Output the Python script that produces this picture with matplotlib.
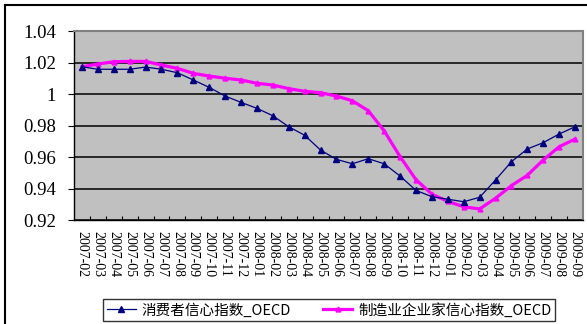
import matplotlib
matplotlib.use("Agg")
import matplotlib.pyplot as plt
from matplotlib.lines import Line2D
from matplotlib import font_manager

months = ["2007-02", "2007-03", "2007-04", "2007-05", "2007-06", "2007-07", "2007-08", "2007-09",
          "2007-10", "2007-11", "2007-12", "2008-01", "2008-02", "2008-03", "2008-04", "2008-05",
          "2008-06", "2008-07", "2008-08", "2008-09", "2008-10", "2008-11", "2008-12", "2009-01",
          "2009-02", "2009-03", "2009-04", "2009-05", "2009-06", "2009-07", "2009-08", "2009-09"]

consumer = [1.0173, 1.0157, 1.0157, 1.0157, 1.0171, 1.0157, 1.0135, 1.0089, 1.0042, 0.9987,
            0.9947, 0.9909, 0.9862, 0.9792, 0.9738, 0.9644, 0.9585, 0.9557, 0.9589, 0.9557,
            0.9479, 0.9388, 0.9348, 0.9332, 0.9316, 0.9344, 0.9454, 0.9570, 0.9651, 0.9691,
            0.9746, 0.9792]

manufacturing = [1.0173, 1.0190, 1.0205, 1.0207, 1.0207, 1.0184, 1.0163, 1.0131, 1.0114, 1.0100,
                 1.0089, 1.0068, 1.0057, 1.0034, 1.0017, 1.0008, 0.9987, 0.9957, 0.9894, 0.9766,
                 0.9602, 0.9456, 0.9364, 0.9318, 0.9284, 0.9270, 0.9338, 0.9418, 0.9484, 0.9581,
                 0.9665, 0.9714]

series_names = ["消费者信心指数_OECD", "制造业企业家信心指数_OECD"]
y_ticks = [0.92, 0.94, 0.96, 0.98, 1.00, 1.02, 1.04]
y_tick_labels = ["0.92", "0.94", "0.96", "0.98", "1", "1.02", "1.04"]

# pick a serif face for the axis numbers
available = {f.name for f in font_manager.fontManager.ttflist}
serif = next((n for n in ["Liberation Serif", "DejaVu Serif"] if n in available), "serif")

W, H = 587, 324
fig = plt.figure(figsize=(W / 100, H / 100), dpi=100)
fig.patch.set_facecolor("white")

# outer chart frame (top and left edges visible)
fig.add_artist(Line2D([4.5 / W, 4.5 / W], [0, 1 - 5 / H], color="black", lw=1.5,
                      transform=fig.transFigure))
fig.add_artist(Line2D([4.5 / W, 1], [1 - 5 / H, 1 - 5 / H], color="black", lw=1.5,
                      transform=fig.transFigure))

ax = fig.add_axes([74 / W, 1 - 220 / H, 509 / W, 189 / H])
ax.set_facecolor("#C0C0C0")

x = list(range(len(months)))
ax.plot(x, consumer, color="#000080", lw=0.9, marker="^", markersize=4,
        label=series_names[0], zorder=4)
ax.plot(x, manufacturing, color="#FF00FF", lw=2.3, marker="^", markersize=3.5,
        label=series_names[1], zorder=3)

ax.set_xlim(-0.5, len(months) - 0.5)
ax.set_ylim(0.92, 1.04)
ax.set_yticks(y_ticks)
ax.set_yticklabels(y_tick_labels)
ax.set_xticks(x)
ax.set_xticklabels(months, rotation=-90, ha="center", va="top")
for lbl in ax.get_yticklabels():
    lbl.set_fontfamily(serif)
    lbl.set_fontsize(13.5)
for lbl in ax.get_xticklabels():
    lbl.set_fontfamily(serif)
    lbl.set_fontsize(10)
ax.set_xticks([i + 0.5 for i in x[:-1]], minor=True)
ax.tick_params(axis="x", which="major", length=0, pad=8)
ax.tick_params(axis="x", which="minor", direction="in", length=3, width=0.8)
ax.tick_params(axis="y", direction="out", length=4, width=0.8, pad=9)

ax.grid(axis="y", color="black", lw=1.1)
ax.set_axisbelow(True)
for side in ("left", "bottom"):
    ax.spines[side].set_color("black")
    ax.spines[side].set_linewidth(1.0)
for side in ("top", "right"):
    ax.spines[side].set_color("#808080")
    ax.spines[side].set_linewidth(1.5)

leg = fig.legend(loc="center", bbox_to_anchor=(329 / W, 1 - 310 / H), ncol=2,
                 prop={"family": ["Noto Sans CJK SC", "DejaVu Sans"], "size": 10.5},
                 frameon=True, fancybox=False, handlelength=2.0, handletextpad=0.4,
                 columnspacing=2.2, borderpad=0.25)
leg.get_frame().set_edgecolor("black")
leg.get_frame().set_linewidth(1.0)

fig.savefig("out.png", dpi=100)
